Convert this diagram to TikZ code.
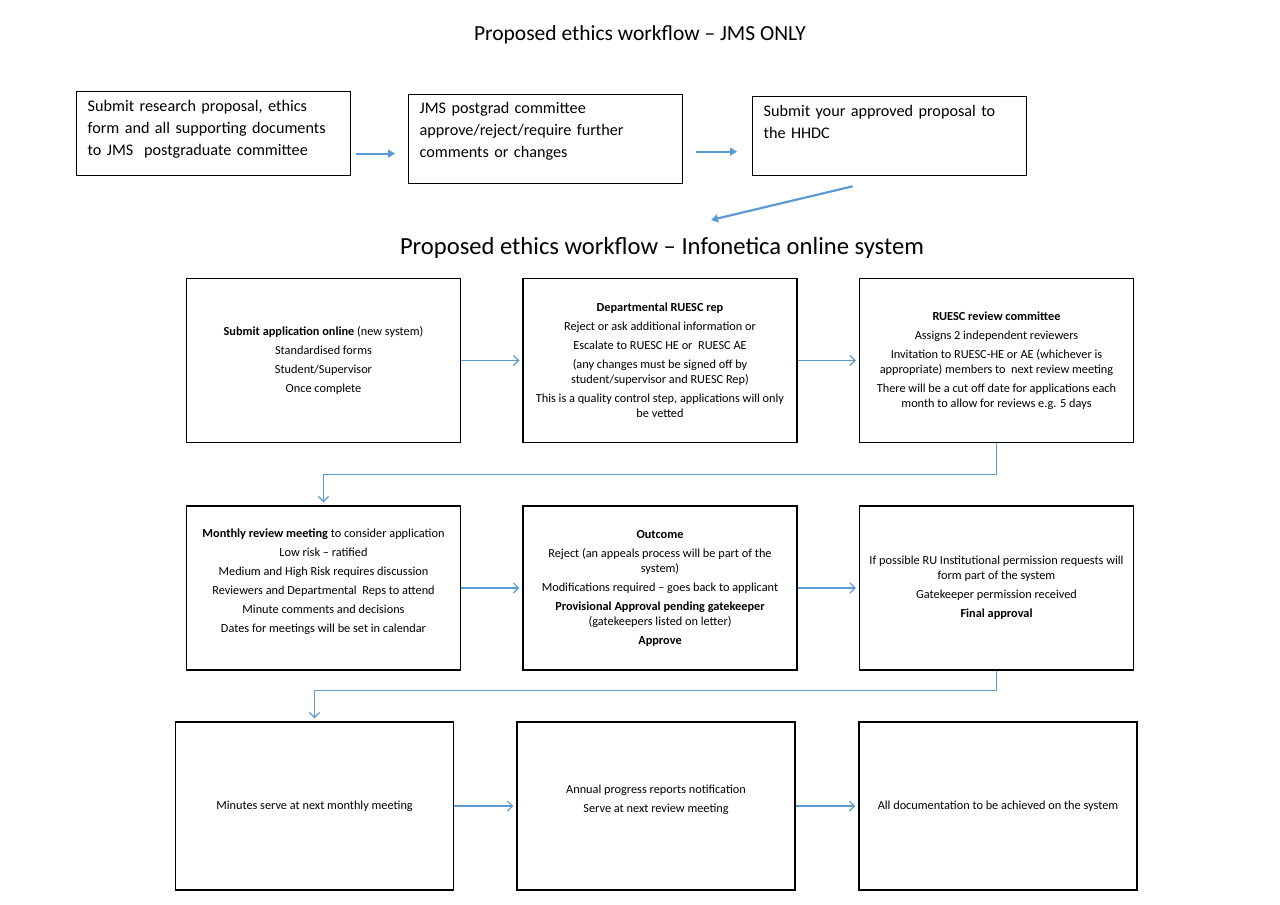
\documentclass[tikz,border=0pt]{standalone}
\usepackage{fontspec}
\setmainfont{Carlito}
\usetikzlibrary{positioning,arrows.meta}
\definecolor{flowblue}{RGB}{91,155,213}

\begin{document}
\begin{tikzpicture}[x=1pt,y=-1pt,
    topbox/.style={draw, line width=1.3pt, text width=252pt, inner xsep=11pt,
      align=left, anchor=north west, font=\fontsize{16.2}{22}\selectfont},
    stepbox/.style={draw, line width=1.5pt, minimum width=274pt, minimum height=164pt,
      align=center, font=\fontsize{12.3}{15}\selectfont},
    endbox/.style={stepbox, minimum width=278pt, minimum height=168pt},
    toparrow/.style={flowblue, line width=2.2pt, -{Triangle[length=7pt,width=8pt]}},
    flow/.style={flowblue, line width=1.1pt, -{Straight Barb[length=5pt,width=10pt]}, shorten >=3pt}]
    \useasboundingbox (0,0) rectangle (1280,905);

    % JMS part
    \node[font=\fontsize{21.5}{24}\selectfont] (title1) at (640,35) {Proposed ethics workflow – JMS ONLY};

    \node[topbox, minimum height=84pt, text depth=56pt] (jmsform) at (76,91)
      {Submit research proposal, ethics\\ form and all supporting documents\\ to JMS\ \ postgraduate committee};
    \node[topbox, minimum height=89pt, text depth=62pt] (jmscommittee) at (408,94)
      {JMS postgrad committee\\ approve/reject/require further\\ comments or changes};
    \node[topbox, minimum height=79pt] (hhdc) at (752,96)
      {Submit your approved proposal to\\ the HHDC\\ \strut};

    \coordinate (formout) at ([yshift=-20pt]jmsform.east);
    \coordinate (committeeout) at ([yshift=-12.5pt]jmscommittee.east);
    \coordinate (hhdcout) at ([xshift=-37pt,yshift=-10pt]hhdc.south);
    \coordinate (infohead) at (711,220);

    \draw[toparrow, shorten <=5pt, shorten >=13pt] (formout) -- (formout -| jmscommittee.west);
    \draw[toparrow, shorten <=13pt, shorten >=15pt] (committeeout) -- (committeeout -| hhdc.west);
    \draw[toparrow] (hhdcout) -- (infohead);

    % Infonetica part
    \node[font=\fontsize{24.6}{28}\selectfont] (title2) at (662,248) {Proposed ethics workflow – Infonetica online system};

    \node[stepbox] (submit) at (323.5,360.5)
      {\textbf{Submit application online} (new system)\\[4pt] Standardised forms\\[4pt]
       Student/Supervisor\\[4pt] Once complete};
    \node[stepbox, right=61pt of submit] (deprep)
      {\textbf{Departmental RUESC rep}\\[4pt] Reject or ask additional information or\\[4pt]
       Escalate to RUESC HE or\ \ RUESC AE\\[4pt] (any changes must be signed off by\\
       student/supervisor and RUESC Rep)\\[4pt] This is a quality control step, applications will only\\ be vetted};
    \node[stepbox, right=61pt of deprep] (review)
      {\textbf{RUESC review committee}\\[4pt] Assigns 2 independent reviewers\\[4pt]
       Invitation to RUESC-HE or AE (whichever is\\ appropriate) members to\ \ next review meeting\\[4pt]
       There will be a cut off date for applications each\\ month to allow for reviews e.g. 5 days};

    \node[stepbox, below=62pt of submit, text depth=14pt] (meeting)
      {\textbf{Monthly review meeting} to consider application\\[4pt] Low risk – ratified\\[4pt]
       Medium and High Risk requires discussion\\[4pt] Reviewers and Departmental\ \ Reps to attend\\[4pt]
       Minute comments and decisions\\[4pt] Dates for meetings will be set in calendar};
    \node[stepbox, right=61pt of meeting] (outcome)
      {\textbf{Outcome}\\[4pt] Reject (an appeals process will be part of the\\ system)\\[4pt]
       Modifications required – goes back to applicant\\[4pt] \textbf{Provisional Approval pending gatekeeper}\\
       (gatekeepers listed on letter)\\[4pt] \textbf{Approve}};
    \node[stepbox, right=61pt of outcome] (final)
      {If possible RU Institutional permission requests will\\ form part of the system\\[4pt]
       Gatekeeper permission received\\[4pt] \textbf{Final approval}};

    \node[endbox] (minutes) at (314.5,806) {Minutes serve at next monthly meeting};
    \node[endbox, text depth=14pt] (annual) at (656,806) {Annual progress reports notification\\[4pt] Serve at next review meeting};
    \node[endbox] (archive) at (998,806) {All documentation to be achieved on the system};

    \draw[flow] (submit) -- (deprep);
    \draw[flow] (deprep) -- (review);
    \draw[flow] (review.south) -- ++(0,31) -| (meeting.north);
    \draw[flow] (meeting) -- (outcome);
    \draw[flow] (outcome) -- (final);
    \draw[flow] (final.south) -- ++(0,20) -| (minutes.north);
    \draw[flow] (minutes) -- (annual);
    \draw[flow] (annual) -- (archive);
\end{tikzpicture}
\end{document}
